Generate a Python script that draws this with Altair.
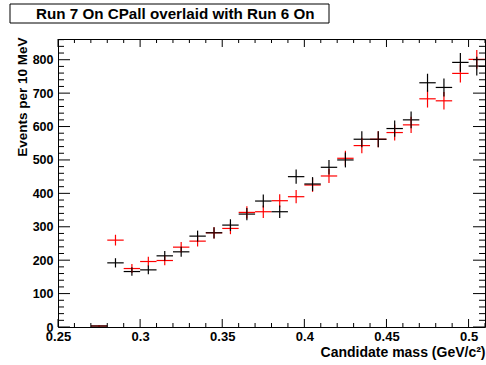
import altair as alt
import pandas as pd

# bin centres (10 MeV bins)
mass = [0.275, 0.285, 0.295, 0.305, 0.315, 0.325, 0.335, 0.345, 0.355, 0.365, 0.375, 0.385,
        0.395, 0.405, 0.415, 0.425, 0.435, 0.445, 0.455, 0.465, 0.475, 0.485, 0.495, 0.505]
run7 = [3, 192, 166, 171, 213, 225, 272, 282, 305, 338, 377, 345,
        450, 428, 478, 500, 562, 562, 594, 620, 731, 717, 792, 781]
run6 = [3, 260, 175, 196, 199, 239, 257, 282, 295, 343, 345, 378,
        390, 425, 452, 505, 543, 562, 582, 605, 683, 677, 759, 801]

x_major = [0.25, 0.30, 0.35, 0.40, 0.45, 0.50]
x_minor = [0.26, 0.27, 0.28, 0.29, 0.31, 0.32, 0.33, 0.34, 0.36, 0.37, 0.38, 0.39,
           0.41, 0.42, 0.43, 0.44, 0.46, 0.47, 0.48, 0.49, 0.51]
y_major = [0, 100, 200, 300, 400, 500, 600, 700, 800]
y_minor = [20, 40, 60, 80, 120, 140, 160, 180, 220, 240, 260, 280, 320, 340, 360, 380,
           420, 440, 460, 480, 520, 540, 560, 580, 620, 640, 660, 680, 720, 740, 760, 780,
           820, 840, 860]

title_text = "Run 7 On CPall overlaid with Run 6 On"
x_title = "Candidate mass (GeV/c²)"
y_title = "Events per 10 MeV"

W, H = 427, 288
XDOM = [0.25, 0.51]
YDOM = [0, 862]
FONT = "Liberation Sans"

xs = alt.Scale(domain=XDOM, nice=False, zero=False)
ys = alt.Scale(domain=YDOM, nice=False, zero=False)

df = pd.concat([
    pd.DataFrame({"m": mass, "n": run6, "s": "run6"}),
    pd.DataFrame({"m": mass, "n": run7, "s": "run7"}),
])

xaxis = alt.Axis(values=x_major, ticks=False, domain=False, grid=False,
                 labelFont=FONT, labelFontWeight="bold", labelFontSize=13,
                 labelPadding=3, labelColor="black", labelFlush=False, labelOverlap=False,
                 title=x_title, titleFont=FONT, titleFontWeight="bold", titleFontSize=14,
                 titleColor="black", titleAlign="right", titleAnchor="end",
                 titleX=W, titleY=29, titleBaseline="alphabetic", format=".2~f")
yaxis = alt.Axis(values=y_major, ticks=False, domain=False, grid=False,
                 labelFont=FONT, labelFontWeight="bold", labelFontSize=12.5,
                 labelPadding=5, labelColor="black", labelFlush=False, labelOverlap=False,
                 title=y_title, titleFont=FONT, titleFontWeight="bold", titleFontSize=13.5,
                 titleColor="black", titleAngle=270, titleAlign="right",
                 titleBaseline="middle", titleX=-36, titleY=-2)

color = alt.Color("s:N", scale=alt.Scale(domain=["run6", "run7"], range=["#ff0000", "#000000"]),
                  legend=None)

base = alt.Chart(df).transform_calculate(
    lo="datum.m - 0.005", hi="datum.m + 0.005",
    elo="datum.n - sqrt(datum.n)", ehi="datum.n + sqrt(datum.n)")

hbar = base.mark_rule(strokeWidth=1.2).encode(
    x=alt.X("lo:Q", scale=xs, axis=xaxis), x2="hi:Q",
    y=alt.Y("n:Q", scale=ys, axis=yaxis), color=color)
vbar = base.mark_rule(strokeWidth=1.2).encode(
    x=alt.X("m:Q", scale=xs, axis=xaxis), y=alt.Y("elo:Q", scale=ys, axis=yaxis),
    y2="ehi:Q", color=color)

def xt(vals, length, top):
    d = pd.DataFrame({"v": vals})
    if top:
        return alt.Chart(d).mark_rule(color="black", strokeWidth=1).encode(
            x=alt.X("v:Q", scale=xs, axis=xaxis), y=alt.value(0), y2=alt.value(length))
    return alt.Chart(d).mark_rule(color="black", strokeWidth=1).encode(
        x=alt.X("v:Q", scale=xs, axis=xaxis), y=alt.value(H), y2=alt.value(H - length))

def yt(vals, length, right):
    d = pd.DataFrame({"v": vals})
    if right:
        return alt.Chart(d).mark_rule(color="black", strokeWidth=1).encode(
            y=alt.Y("v:Q", scale=ys, axis=yaxis), x=alt.value(W), x2=alt.value(W - length))
    return alt.Chart(d).mark_rule(color="black", strokeWidth=1).encode(
        y=alt.Y("v:Q", scale=ys, axis=yaxis), x=alt.value(0), x2=alt.value(length))

ticks = [xt(x_major, 8, False), xt(x_minor, 4, False), xt(x_major, 8, True), xt(x_minor, 4, True),
         yt(y_major, 12, False), yt(y_minor, 6, False), yt(y_major, 12, True), yt(y_minor, 6, True)]

tdf = pd.DataFrame({"t": [title_text]})
box = alt.Chart(tdf).mark_rect(fill="white", stroke="black", strokeWidth=1).encode(
    x=alt.value(-48), x2=alt.value(271), y=alt.value(-35), y2=alt.value(-16))
ttext = alt.Chart(tdf).mark_text(font=FONT, fontWeight="bold", fontSize=15.2, align="left",
                                 baseline="middle", color="black").encode(
    x=alt.value(-22), y=alt.value(-25.5), text="t:N")

chart = alt.layer(hbar, vbar, *ticks, box, ttext).properties(
    width=W, height=H,
    padding={"left": 58, "top": 39, "right": 1, "bottom": 38},
    autosize=alt.AutoSizeParams(type="none"),
    background="white",
).configure_view(stroke="black", strokeWidth=1).configure_axis(labelOverlap=False)

chart.save("out.html", embed_options={"renderer": "svg", "actions": False})
